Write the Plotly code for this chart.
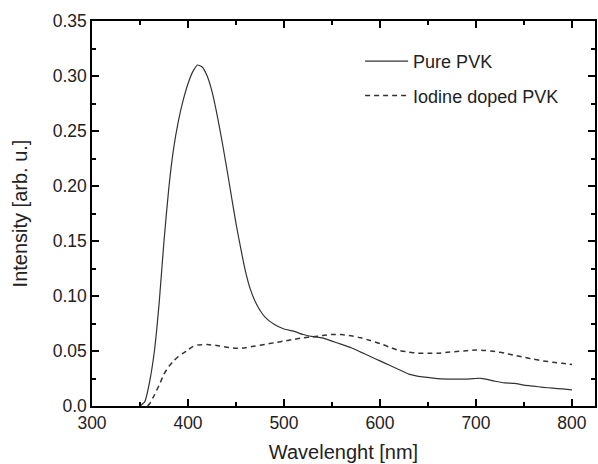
import plotly.graph_objects as go

# Pure PVK emission
pure_wl = [350, 355, 360, 365, 370, 375, 380, 385, 390, 395, 400, 405, 410, 415, 420,
           425, 430, 435, 440, 445, 450, 455, 460, 465, 470, 475, 480, 490, 500, 510,
           520, 530, 540, 550, 560, 570, 580, 590, 600, 610, 620, 630, 640, 650, 660,
           670, 680, 690, 700, 705, 710, 720, 730, 740, 750, 760, 770, 780, 790, 800]
pure_int = [0.0, 0.004, 0.022, 0.050, 0.094, 0.150, 0.198, 0.234, 0.259, 0.278, 0.293, 0.304,
            0.310, 0.308, 0.300, 0.286, 0.266, 0.243, 0.218, 0.192, 0.166, 0.143, 0.122,
            0.106, 0.095, 0.087, 0.081, 0.074, 0.070, 0.068, 0.065, 0.063, 0.062, 0.059,
            0.056, 0.053, 0.049, 0.045, 0.041, 0.037, 0.033, 0.029, 0.027, 0.026, 0.0248,
            0.0245, 0.0245, 0.0245, 0.025, 0.0252, 0.0245, 0.0225, 0.021, 0.0205, 0.019,
            0.018, 0.017, 0.0162, 0.0155, 0.0147]

# Iodine doped PVK emission
dop_wl = [358, 360, 365, 370, 375, 380, 385, 390, 395, 400, 405, 410, 420, 430, 440, 450,
          460, 470, 480, 490, 500, 510, 520, 530, 540, 550, 560, 570, 580, 590, 600, 610,
          620, 630, 640, 650, 660, 670, 680, 690, 700, 710, 720, 730, 740, 750, 760, 770,
          780, 790, 800]
dop_int = [0.0, 0.002, 0.010, 0.019, 0.029, 0.036, 0.041, 0.045, 0.048, 0.051, 0.054, 0.0555,
           0.0558, 0.055, 0.0535, 0.0525, 0.053, 0.0545, 0.056, 0.0575, 0.059, 0.0605, 0.062,
           0.063, 0.064, 0.065, 0.065, 0.0638, 0.062, 0.0595, 0.0568, 0.0535, 0.0505, 0.049,
           0.048, 0.048, 0.048, 0.0488, 0.0495, 0.0503, 0.051, 0.0505, 0.0495, 0.048, 0.046,
           0.0443, 0.0425, 0.041, 0.0398, 0.0388, 0.0378]

x_ticks = [300, 400, 500, 600, 700, 800]
x_ticktext = ["300", "400", "500", "600", "700", "800"]
y_ticks = [0.0, 0.05, 0.10, 0.15, 0.20, 0.25, 0.30, 0.35]
y_ticktext = ["0.0", "0.05", "0.10", "0.15", "0.20", "0.25", "0.30", "0.35"]

FONT = "Liberation Sans, Arial, sans-serif"
TXT = "#222222"

fig = go.Figure()
fig.add_trace(go.Scatter(x=pure_wl, y=pure_int, mode="lines", name="Pure PVK",
                         legendgroup="a",
                         line=dict(color="#333333", width=1.2, shape="spline", smoothing=0.5)))
fig.add_trace(go.Scatter(x=dop_wl, y=dop_int, mode="lines", name="Iodine doped PVK",
                         legendgroup="b",
                         line=dict(color="#333333", width=1.5, dash="5px,4px",
                                   shape="spline", smoothing=0.5)))

axis_common = dict(showline=True, linecolor="black", linewidth=1.5, mirror="allticks",
                   ticks="inside", ticklen=7, tickwidth=1.5, tickcolor="black",
                   showgrid=False, zeroline=False,
                   tickfont=dict(family=FONT, size=17.5, color=TXT))

fig.update_xaxes(range=[300, 824], tickvals=x_ticks, ticktext=x_ticktext,
                 minor=dict(ticks="inside", ticklen=4, tickwidth=1.5, tickcolor="black", dtick=50,
                            tick0=300, showgrid=False),
                 title=dict(text="Wavelenght [nm]", font=dict(family=FONT, size=20, color=TXT),
                            standoff=13),
                 **axis_common)
fig.update_yaxes(range=[0, 0.35], tickvals=y_ticks, ticktext=y_ticktext,
                 minor=dict(ticks="inside", ticklen=4, tickwidth=1.5, tickcolor="black", dtick=0.025,
                            tick0=0, showgrid=False),
                 title=dict(text="Intensity [arb. u.]", font=dict(family=FONT, size=20, color=TXT),
                            standoff=20),
                 **axis_common)

fig.update_layout(width=598, height=464,
                  margin=dict(l=92, r=3, t=21, b=58, autoexpand=False),
                  paper_bgcolor="white", plot_bgcolor="white",
                  showlegend=True,
                  legend=dict(x=0.533, y=0.943, xanchor="left", yanchor="top",
                              bgcolor="rgba(0,0,0,0)", traceorder="grouped",
                              tracegroupgap=8, itemwidth=43,
                              font=dict(family=FONT, size=18, color=TXT)))

fig.write_html("out.html", config={"displayModeBar": False})

# remove default page margin so the figure sits at the window's top-left corner
with open("out.html", encoding="utf-8") as f:
    html = f.read()
html = html.replace("<head>", "<head><style>html,body{margin:0;padding:0;overflow:hidden}</style>", 1)
with open("out.html", "w", encoding="utf-8") as f:
    f.write(html)
